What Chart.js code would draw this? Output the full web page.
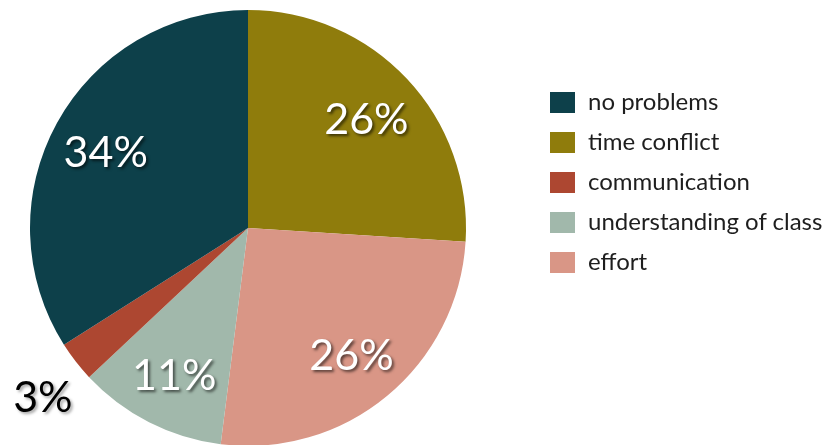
<!DOCTYPE html>
<html lang="en">
<head>
<meta charset="utf-8">
<style>
    body { margin: 0; overflow: hidden; background: #fff; }
    #wrap { position: relative; width: 829px; height: 445px; overflow: hidden; }
    #myChart { position: absolute; left: 0; top: 0; }
    #legend { position: absolute; left: 550px; top: 90px; font-family: Lato, sans-serif; font-size: 24px; color: #1e1e1e; }
    #legend div { height: 40px; display: flex; align-items: flex-start; white-space: nowrap; }
    #legend span.txt { line-height: 24px; margin-top: -1px; }
    #legend span.box { display: inline-block; width: 25px; height: 21px; margin-right: 13px; margin-top: 2px; }
</style>
</head>
<body>
<div id="wrap">
    <canvas id="myChart" width="829" height="447"></canvas>
    <div id="legend"></div>
</div>

<script src="https://cdn.jsdelivr.net/npm/chart.js"></script>
<script>
    // slices clockwise from the top
    var labels = ['time conflict', 'effort', 'understanding of class', 'communication', 'no problems'];
    var values = [26, 26, 11, 3, 34];
    var colors = ['#8f7c0c', '#d99686', '#a1b8ab', '#ad4731', '#0d404a'];
    var legendOrder = ['no problems', 'time conflict', 'communication', 'understanding of class', 'effort'];

    // build the legend
    var legend = document.getElementById('legend');
    legendOrder.forEach(function (name) {
        var i = labels.indexOf(name);
        var row = document.createElement('div');
        row.innerHTML = '<span class="box" style="background:' + colors[i] + '"></span><span class="txt">' + name + '</span>';
        legend.appendChild(row);
    });

    var pctLabels = {
        id: 'pctLabels',
        afterDatasetsDraw: function (chart) {
            var ctx = chart.ctx;
            var meta = chart.getDatasetMeta(0);
            ctx.save();
            ctx.font = '43px Lato, sans-serif';
            ctx.textAlign = 'center';
            ctx.textBaseline = 'middle';
            meta.data.forEach(function (arc, i) {
                var mid = (arc.startAngle + arc.endAngle) / 2;
                var outside = values[i] < 5;
                var r = arc.outerRadius * (outside ? 1.22 : 0.745);
                var x = arc.x + Math.cos(mid) * r;
                var y = arc.y + Math.sin(mid) * r + 3;
                ctx.shadowOffsetX = 2;
                ctx.shadowOffsetY = 2;
                ctx.shadowBlur = 3;
                if (outside) {
                    x += 5;
                    y += 4;
                    ctx.fillStyle = '#000';
                    ctx.shadowColor = 'rgba(0,0,0,0.35)';
                } else {
                    ctx.fillStyle = '#fff';
                    ctx.shadowColor = 'rgba(0,0,0,0.6)';
                }
                ctx.fillText(values[i] + '%', x, y);
            });
            ctx.restore();
        }
    };

    var myChart = new Chart(document.getElementById('myChart'), {
        type: 'pie',
        data: {
            labels: labels,
            datasets: [{
                data: values,
                backgroundColor: colors,
                borderWidth: 0
            }]
        },
        options: {
            responsive: false,
            animation: false,
            layout: { padding: { left: 30, right: 363, top: 10, bottom: 1 } },
            plugins: {
                legend: { display: false },
                tooltip: { enabled: false }
            }
        },
        plugins: [pctLabels]
    });
</script>
</body>
</html>
